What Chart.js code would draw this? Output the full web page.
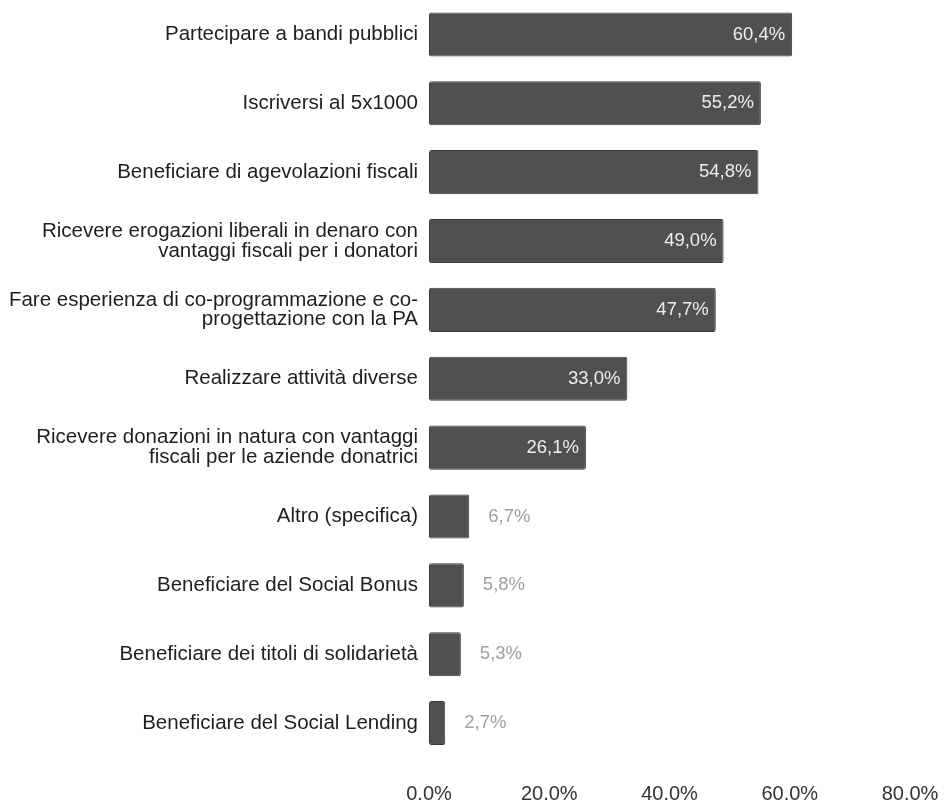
<!DOCTYPE html>
<html>
<head>
<meta charset="utf-8">
<script src="https://cdn.jsdelivr.net/npm/chart.js@4/dist/chart.umd.min.js"></script>
<style>
  html, body { margin: 0; padding: 0; background: #fff; }
  #wrap { width: 944px; height: 800px; position: relative; }
</style>
</head>
<body>
<div id="wrap"><canvas id="barChart"></canvas></div>
<script>
const categories = [
  'Partecipare a bandi pubblici',
  'Iscriversi al 5x1000',
  'Beneficiare di agevolazioni fiscali',
  ['Ricevere erogazioni liberali in denaro con', 'vantaggi fiscali per i donatori'],
  ['Fare esperienza di co-programmazione e co-', 'progettazione con la PA'],
  'Realizzare attività diverse',
  ['Ricevere donazioni in natura con vantaggi', 'fiscali per le aziende donatrici'],
  'Altro (specifica)',
  'Beneficiare del Social Bonus',
  'Beneficiare dei titoli di solidarietà',
  'Beneficiare del Social Lending'
];
const shares = [60.4, 55.2, 54.8, 49.0, 47.7, 33.0, 26.1, 6.7, 5.8, 5.3, 2.7];
const tickValues = [0, 20, 40, 60, 80];

const FONT = '"Liberation Sans", Arial, sans-serif';

function pct(v, digits) {
  return v.toFixed(digits).replace('.', ',') + '%';
}

// values written inside long bars, just past the end of short ones
const valueLabels = {
  id: 'valueLabels',
  afterDatasetsDraw(chart) {
    const ctx = chart.ctx;
    const meta = chart.getDatasetMeta(0);
    ctx.save();
    ctx.font = '18.5px ' + FONT;
    ctx.textBaseline = 'middle';
    meta.data.forEach((bar, i) => {
      const v = shares[i];
      const txt = pct(v, 1);
      if (v > 15) {
        ctx.fillStyle = '#eeeeee';
        ctx.textAlign = 'right';
        ctx.fillText(txt, bar.x - 7, bar.y);
      } else {
        ctx.fillStyle = '#a0a0a0';
        ctx.textAlign = 'left';
        ctx.fillText(txt, bar.x + 19, bar.y);
      }
    });
    ctx.restore();
  }
};

new Chart(document.getElementById('barChart'), {
  type: 'bar',
  data: {
    labels: categories,
    datasets: [{
      data: shares,
      backgroundColor: '#505050',
      borderColor: '#3c3c3c',
      borderWidth: 1,
      borderRadius: 2,
      borderSkipped: false,
      barPercentage: 0.8,
      categoryPercentage: 0.8
    }]
  },
  options: {
    indexAxis: 'y',
    responsive: true,
    maintainAspectRatio: false,
    animation: false,
    layout: { padding: { top: -1, right: 34, bottom: 0, left: 0 } },
    plugins: {
      legend: { display: false },
      tooltip: { enabled: false }
    },
    scales: {
      x: {
        min: 0,
        max: 80,
        border: { display: false },
        grid: { display: false },
        afterBuildTicks(scale) {
          scale.ticks = tickValues.map(v => ({ value: v }));
        },
        afterFit(scale) {
          scale.height = 42.5;
          scale.paddingLeft = 0;
          scale.paddingRight = 0;
        },
        ticks: {
          padding: 17,
          maxRotation: 0,
          color: '#333',
          font: { family: FONT, size: 20 },
          callback: v => v.toFixed(1) + '%'
        }
      },
      y: {
        border: { display: false },
        grid: { display: false },
        afterFit(scale) {
          scale.width = 429;
          scale.paddingTop = 0;
          scale.paddingBottom = 0;
        },
        ticks: {
          padding: 3,
          color: '#1e1e1e',
          font: { family: FONT, size: 20.5, lineHeight: 0.97 }
        }
      }
    }
  },
  plugins: [valueLabels]
});
</script>
</body>
</html>
